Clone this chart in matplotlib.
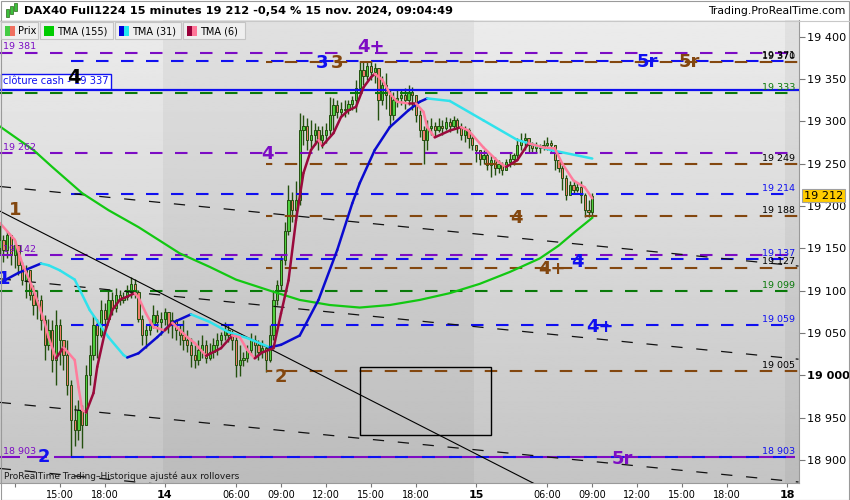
import numpy as np
import matplotlib.pyplot as plt
from matplotlib.patches import Rectangle

W, H = 850, 500

# 15-minute bars, index 0 = first bar of 15 Nov (01:15); one session = 83 bars
first_bar = -127
first_open = 19150
closes = [19160, 19148, 19166, 19142, 19154, 19130, 19113, 19124, 19095, 19083,
          19089, 19065, 19036, 19053, 19018, 19059, 19042, 19024, 18988, 18947,
          18935, 18959, 18941, 19000, 19024, 19059, 19047, 19077, 19067, 19089,
          19079, 19095, 19089, 19093, 19098, 19108, 19098, 19067, 19047, 19053,
          19059, 19071, 19063, 19067, 19075, 19059, 19065, 19053, 19047, 19042,
          19036, 19024, 19018, 19030, 19036, 19021, 19027, 19036, 19042, 19047,
          19053, 19047, 19042, 19012, 19018, 19020, 19030, 19042, 19036, 19027,
          19032, 19018, 19047, 19089, 19107, 19136, 19171, 19207, 19195, 19207,
          19290, 19295, 19278, 19284, 19290, 19278, 19284, 19290, 19307, 19319,
          19311, 19315, 19313, 19320, 19325, 19339, 19360, 19354, 19365, 19358,
          19363, 19325, 19343, 19331, 19307, 19325, 19327, 19331, 19325, 19334,
          19331, 19307, 19290, 19278, 19292, 19295, 19290, 19295, 19292, 19299,
          19295, 19301, 19292, 19284, 19290, 19280, 19272, 19266, 19256, 19260,
          19248, 19254, 19245, 19250, 19242, 19252, 19256, 19260, 19272, 19278,
          19280, 19272, 19268, 19271, 19268, 19272, 19274, 19272, 19254, 19245,
          19233, 19213, 19225, 19219, 19222, 19213, 19195, 19193, 19212]
highs = [19177, 19166, 19171, 19162, 19160, 19154, 19134, 19130, 19122, 19107,
         19101, 19095, 19071, 19067, 19065, 19077, 19067, 19042, 19042, 18994,
         18965, 18971, 18965, 19012, 19036, 19071, 19067, 19089, 19085, 19101,
         19098, 19103, 19101, 19098, 19107, 19116, 19114, 19101, 19071, 19059,
         19067, 19083, 19077, 19075, 19079, 19071, 19075, 19067, 19059, 19065,
         19053, 19044, 19036, 19042, 19047, 19042, 19038, 19044, 19050, 19051,
         19063, 19059, 19053, 19047, 19036, 19027, 19036, 19050, 19047, 19042,
         19042, 19036, 19059, 19101, 19113, 19142, 19181, 19225, 19216, 19230,
         19310, 19307, 19304, 19301, 19298, 19295, 19294, 19298, 19329, 19327,
         19325, 19323, 19325, 19325, 19330, 19349, 19370, 19371, 19371, 19370,
         19369, 19360, 19354, 19357, 19337, 19334, 19337, 19337, 19339, 19343,
         19340, 19331, 19313, 19295, 19301, 19304, 19299, 19304, 19301, 19305,
         19304, 19306, 19304, 19298, 19295, 19292, 19284, 19269, 19266, 19266,
         19262, 19260, 19258, 19254, 19252, 19256, 19262, 19263, 19280, 19286,
         19286, 19278, 19275, 19275, 19273, 19278, 19281, 19278, 19272, 19254,
         19248, 19236, 19230, 19230, 19228, 19230, 19215, 19207, 19215]
lows = [19142, 19134, 19138, 19130, 19127, 19118, 19107, 19091, 19089, 19071,
        19067, 19053, 19018, 19030, 19004, 18988, 19012, 19006, 18977, 18903,
        18917, 18923, 18914, 18947, 18988, 19018, 19021, 19045, 19053, 19063,
        19071, 19075, 19083, 19085, 19089, 19091, 19091, 19063, 19036, 19032,
        19047, 19056, 19051, 19047, 19059, 19050, 19044, 19042, 19036, 19030,
        19027, 19010, 19009, 19012, 19020, 19014, 19018, 19020, 19024, 19036,
        19042, 19039, 19030, 18998, 18999, 19011, 19016, 19024, 19020, 19018,
        19020, 19004, 19016, 19042, 19083, 19101, 19130, 19166, 19181, 19186,
        19201, 19272, 19266, 19268, 19272, 19266, 19268, 19274, 19284, 19290,
        19304, 19306, 19305, 19308, 19313, 19311, 19334, 19343, 19349, 19349,
        19345, 19301, 19319, 19315, 19293, 19301, 19317, 19319, 19315, 19319,
        19313, 19299, 19281, 19250, 19266, 19284, 19281, 19287, 19284, 19290,
        19287, 19292, 19286, 19278, 19275, 19269, 19266, 19252, 19248, 19250,
        19242, 19234, 19236, 19239, 19236, 19242, 19246, 19248, 19254, 19266,
        19266, 19263, 19262, 19263, 19262, 19266, 19266, 19263, 19242, 19240,
        19219, 19207, 19213, 19215, 19216, 19203, 19187, 19187, 19189]

# moving averages (bar index, price)
tma155_bar = [-127, -118, -113, -105, -98, -90, -79, -71, -64, -55, -47, -39, -31,
              -23, -15, -7, 1, 9, 17, 22, 26, 31]
tma155_val = [19294, 19266, 19246, 19215, 19195, 19175, 19144, 19128, 19113, 19100,
              19089, 19083, 19080, 19083, 19089, 19097, 19108, 19122, 19138, 19153,
              19168, 19186]
tma31_bar = [-127, -122, -116, -114, -111, -107, -103, -98, -94, -93,
             -90, -85, -81, -76, -71, -66, -61, -55, -52, -47,
             -42, -37, -33, -31, -27, -23, -18, -15, -13, -7,
             2, 11, 20, 31]
tma31_val = [19109, 19121, 19132, 19130, 19124, 19113, 19077, 19045, 19024, 19021,
             19026, 19045, 19062, 19072, 19063, 19051, 19044, 19033, 19036, 19047,
             19089, 19148, 19203, 19227, 19266, 19293, 19313, 19323, 19327, 19324,
             19301, 19278, 19266, 19256]
tma6_bar = [-127, -123, -121, -118, -115, -114, -112, -110, -107, -106,
            -105, -104, -102, -101, -99, -97, -95, -91, -90, -88,
            -86, -83, -81, -77, -75, -72, -68, -65, -63, -61,
            -59, -57, -54, -52, -50, -48, -46, -44, -42, -41,
            -38, -36, -34, -32, -30, -28, -27, -25, -23, -21,
            -18, -16, -14, -13, -11, -7, -4, -2, 2, 6,
            8, 11, 14, 18, 21, 23, 26, 29, 31]
tma6_val = [19180, 19160, 19132, 19101, 19062, 19045, 19020, 19033, 19018, 18986,
            18959, 18956, 18979, 19010, 19050, 19077, 19089, 19097, 19092, 19073,
            19057, 19053, 19062, 19045, 19038, 19023, 19032, 19047, 19045, 19030,
            19020, 19027, 19032, 19073, 19112, 19183, 19239, 19266, 19278, 19271,
            19286, 19305, 19313, 19317, 19340, 19352, 19356, 19349, 19333, 19323,
            19321, 19321, 19311, 19293, 19281, 19289, 19293, 19289, 19269, 19252,
            19246, 19254, 19274, 19269, 19268, 19250, 19230, 19222, 19209]

# horizontal levels
purple_levels = [19381, 19262, 19142, 18903]
blue_levels = [19371, 19214, 19137, 19059, 18903]
brown_levels = [19370, 19249, 19188, 19127, 19005]
green_levels = [19333, 19099]
cash_close = 19337
blue_start = -108
brown_start = -56

# trend lines (bar index pairs, price pairs)
trend_bar = [-127, 16]
trend_val = [19194, 18871]
channel_bar = [-127, 86]
channel_vals = [[19223, 19129], [19114, 19019], [18968, 18874], [18890, 18796]]

# wave labels
wave_text = ['1', '1', '2', '2', '3', '3', '4+', '4', '4', '4', '4+', '4', '4+', '5r', '5r', '5r']
wave_bar = [-122.9, -125.9, -115.2, -52, -41, -37, -28, -107.2, -55.5, 10.7, 20.3, 27, 33, 45.6, 56.8, 39]
wave_val = [19197, 19115, 18905, 19000, 19370, 19370, 19389, 19354, 19263, 19188, 19127, 19135, 19059, 19372, 19372, 18903]

x_ticks = [-123, -111, -99, -83, -64, -52, -40, -28, -16, 0, 19, 31, 43, 55, 67, 83]
x_labels = ['', '15:00', '18:00', '14', '06:00', '09:00', '12:00', '15:00', '18:00',
            '15', '06:00', '09:00', '12:00', '15:00', '18:00', '18']
day_labels = ['14', '15', '18']
y_ticks = [18900, 18950, 19000, 19050, 19100, 19150, 19200, 19250, 19300, 19350, 19400]
last_price = 19212

BROWN = '#83470f'
BLUE = '#1010f0'
PURPLE = '#7c0cc4'
DGREEN = '#0a7a0a'
UP, DOWN, EDGE = '#4fd03f', '#ef7f6c', '#24500f'


def fmt(v):
    return f"{int(round(v)):,}".replace(',', ' ')


fig = plt.figure(figsize=(8.5, 5), dpi=100)
fig.patch.set_facecolor('white')
ax = fig.add_axes([0, 17 / H, 799 / W, 463 / H])
x_left, x_right = -126.93, 86.13
y_low, y_high = 18872.8, 19419.6
ax.set_xlim(x_left, x_right)
ax.set_ylim(y_low, y_high)

# background gradient and alternate sessions
grad = np.linspace(0.77, 0.925, 256).reshape(-1, 1)
ax.imshow(grad, extent=[x_left, x_right, y_low, y_high], origin='lower', cmap='gray',
          vmin=0, vmax=1, aspect='auto', zorder=0)
for a, b in [(-83.5, -0.5), (82.5, x_right)]:
    ax.axvspan(a, b, color='black', alpha=0.045, lw=0, zorder=0.5)

# candles
idx = np.arange(first_bar, first_bar + len(closes))
c = np.array(closes, float)
o = np.concatenate([[first_open], c[:-1]])
hi = np.maximum.reduce([np.array(highs, float), o, c])
lo = np.minimum.reduce([np.array(lows, float), o, c])
ax.vlines(idx, lo, hi, color=EDGE, lw=1.0, zorder=3)
body = np.maximum(np.abs(c - o), 0.8)
cols = [UP if cc >= oo else DOWN for oo, cc in zip(o, c)]
ax.bar(idx, body, bottom=np.minimum(o, c), width=0.62, color=cols, edgecolor=EDGE,
       linewidth=0.7, zorder=3.5)

# levels
ls = (0, (6, 6))
for p in purple_levels:
    if p == 18903:
        ax.hlines(p, x_left, 85, colors=PURPLE, lw=1.5, linestyles=(0, (9.6, 3.36)), zorder=4)
    else:
        ax.hlines(p, x_left, 85, colors=PURPLE, lw=1.5, linestyles=ls, zorder=4)
for p in blue_levels:
    pat = (0, (6.2, 6.76)) if p == 18903 else ls
    ax.hlines(p, blue_start, 85, colors=BLUE, lw=1.5, linestyles=pat, zorder=4.1)
for p in brown_levels:
    ax.hlines(p, brown_start, x_right, colors=BROWN, lw=1.5, linestyles=(3, (6, 6)), zorder=4.1)
for p in green_levels:
    ax.hlines(p, x_left, 85, colors=DGREEN, lw=1.5, linestyles=ls, zorder=4)
ax.axhline(cash_close, color=BLUE, lw=1.6, zorder=4.2)

# trend lines
ax.plot(trend_bar, trend_val, color='black', lw=0.8, zorder=4.3)
for vals in channel_vals:
    ax.plot(channel_bar, vals, color='#111111', lw=0.9, ls=(0, (9, 11)), zorder=4.3)

ax.add_patch(Rectangle((-31, 18930), 35, 80, fill=False, edgecolor='black', lw=1, zorder=4.4))


def two_tone(xs, ys, up, down, lw):
    for k in range(len(xs) - 1):
        col = up if ys[k + 1] >= ys[k] else down
        ax.plot(xs[k:k + 2], ys[k:k + 2], color=col, lw=lw, solid_capstyle='round', zorder=5)


ax.plot(tma155_bar, tma155_val, color='#12c812', lw=1.6, zorder=5)
two_tone(tma31_bar, tma31_val, '#0a0ad0', '#30e2ec', 1.8)
two_tone(tma6_bar, tma6_val, '#9a0a3c', '#ff7c9c', 1.8)

# level price labels
right_vals = [19371, 19370, 19333, 19249, 19214, 19188, 19137, 19127, 19099, 19059, 19005, 18903]
right_cols = ['black', 'black', DGREEN, 'black', BLUE, 'black', BLUE, 'black', DGREEN, BLUE, 'black', BLUE]
for v, col in zip(right_vals, right_cols):
    ax.annotate(fmt(v), (85.07, v), xytext=(0, 2.5), textcoords='offset points',
                ha='right', va='baseline', fontsize=6.8, color=col, zorder=6)
for v in purple_levels:
    ax.annotate(fmt(v), (-126.2, v), xytext=(0, 2.5), textcoords='offset points',
                ha='left', va='baseline', fontsize=6.8, color=PURPLE, zorder=6)

ax.text(-126.1, 19347, 'clôture cash - ' + fmt(cash_close), ha='left', va='center',
        fontsize=7.2, color=BLUE, zorder=7,
        bbox=dict(boxstyle='square,pad=0.25', fc='white', ec=BLUE, lw=1))

wave_cols = [BROWN, BLUE, BLUE, BROWN, BLUE, BROWN, PURPLE, 'black', PURPLE, BROWN,
             BROWN, BLUE, BLUE, BLUE, BROWN, PURPLE]
for t, xb, v, col in zip(wave_text, wave_bar, wave_val, wave_cols):
    size = 14 if col == 'black' else 13
    ax.annotate(t, (xb, v), xytext=(0, -size * 0.36), textcoords='offset points',
                ha='center', va='baseline', fontsize=size, fontweight='bold', color=col, zorder=7)

ax.text(-125.9, 18881, 'ProRealTime Trading–Historique ajusté aux rollovers', ha='left',
        va='center', fontsize=6.5, color='#1a1a1a', zorder=7)

# axes styling
for s in ['top', 'left']:
    ax.spines[s].set_visible(False)
for s in ['right', 'bottom']:
    ax.spines[s].set_color('#9a9a9a')
ax.yaxis.tick_right()
ax.set_yticks(y_ticks, labels=[fmt(v) for v in y_ticks])
ax.tick_params(axis='y', length=4, width=0.8, color='#777777', labelsize=8.1, pad=2)
for lab, v in zip(ax.get_yticklabels(), y_ticks):
    if v == 19000:
        lab.set_fontweight('bold')
ax.set_xticks(x_ticks, labels=x_labels)
ax.tick_params(axis='x', length=3, width=0.8, color='#777777', labelsize=7, pad=2)
for lab in ax.get_xticklabels():
    if lab.get_text() in day_labels:
        lab.set_fontweight('bold')
        lab.set_fontsize(8)

ax.text(1.0063, last_price, fmt(last_price), transform=ax.get_yaxis_transform(),
        ha='left', va='center', fontsize=8.1, color='black', zorder=8,
        bbox=dict(boxstyle='square,pad=0.15', fc='#ffcc00', ec='#a0a0a0', lw=0.8))

# title bar
fig.text(24 / W, 1 - 11 / H, 'DAX40 Full1224 15 minutes ' + fmt(last_price) +
         ' -0,54 % 15 nov. 2024, 09:04:49', ha='left', va='center', fontsize=8.2,
         fontweight='bold', color='black')
fig.text(845 / W, 1 - 11 / H, 'Trading.ProRealTime.com', ha='right', va='center',
         fontsize=7.8, color='black')
for k, (bx, by0, by1) in enumerate([(6, 9, 17), (10, 6, 14), (14, 3, 11)]):
    fig.add_artist(Rectangle((bx / W, 1 - by1 / H), 2.5 / W, (by1 - by0) / H,
                             transform=fig.transFigure, fc='#3cc03c', ec='#2a6a1a', lw=0.5))

# legend boxes
legend_names = ['Prix', 'TMA (155)', 'TMA (31)', 'TMA (6)']
legend_cols = [('#44cc44', '#f07060'), ('#00cc00', '#00cc00'), ('#0000dd', '#22e8f0'),
               ('#99003a', '#ff7799')]
box_left = [1, 40, 115, 183]
box_width = [37, 73, 66, 62]
for name, (c1, c2), bl, bw in zip(legend_names, legend_cols, box_left, box_width):
    fig.add_artist(Rectangle((bl / W, 1 - 39 / H), bw / W, 17 / H, transform=fig.transFigure,
                             fc='#efefef', ec='#c4c4c4', lw=0.8, zorder=9))
    fig.add_artist(Rectangle(((bl + 4) / W, 1 - 36 / H), 5 / W, 10 / H, transform=fig.transFigure,
                             fc=c1, ec='none', zorder=10))
    fig.add_artist(Rectangle(((bl + 9) / W, 1 - 36 / H), 5 / W, 10 / H, transform=fig.transFigure,
                             fc=c2, ec='none', zorder=10))
    fig.text((bl + 17) / W, 1 - 31 / H, name, ha='left', va='center', fontsize=7,
             color='black', zorder=11)

fig.add_artist(Rectangle((0.5 / W, 0.5 / H), (W - 1.5) / W, (H - 1.5) / H,
                         transform=fig.transFigure, fill=False, ec='#9a9a9a', lw=0.8))
fig.add_artist(plt.Line2D([0, 1], [1 - 20.5 / H, 1 - 20.5 / H], transform=fig.transFigure,
                          color='#c8c8c8', lw=0.8))

fig.savefig('out.png', dpi=100)
